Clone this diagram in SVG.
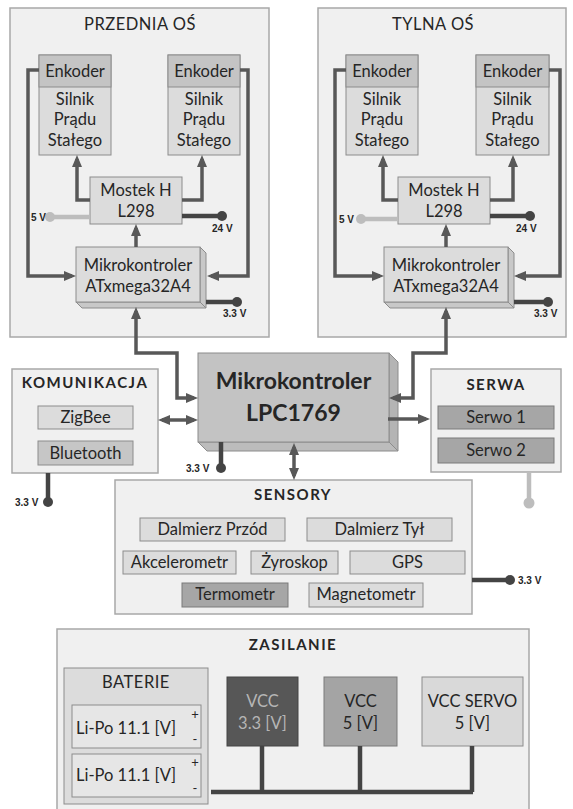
<svg xmlns="http://www.w3.org/2000/svg" width="573" height="809" viewBox="0 0 573 809">
<style>
.panel{fill:#f0f0f0;stroke:#a8a8a8;stroke-width:1.5}
.box{fill:#dcdcdc;stroke:#8c8c8c;stroke-width:1}
.hdr{fill:#c4c4c4;stroke:#8c8c8c;stroke-width:1}
.dark{fill:#a6a6a6;stroke:#7a7a7a;stroke-width:1}
.mid{fill:#c6c6c6;stroke:#8c8c8c;stroke-width:1}
.side{fill:#c8c8c8;stroke:#8c8c8c;stroke-width:1}
.t{font-family:Lato,"Open Sans",sans-serif;font-size:16.5px;fill:#262626;text-anchor:middle}
.ti{font-family:Lato,"Open Sans",sans-serif;font-size:16.5px;fill:#262626;text-anchor:middle;letter-spacing:0.5px}
.tb{font-family:Lato,"Open Sans",sans-serif;font-size:15px;font-weight:bold;fill:#262626;text-anchor:middle;letter-spacing:1.5px}
.v{font-family:"Liberation Sans",Arial,sans-serif;font-size:10px;font-weight:bold;fill:#262626}
.c{stroke:#585858;stroke-width:3.5;fill:none;marker-end:url(#ah)}
.cb{stroke:#585858;stroke-width:3.5;fill:none;marker-end:url(#ah);marker-start:url(#ah)}
.pw{stroke:#444;stroke-width:4.5;fill:none}
.pl{stroke:#bdbdbd;stroke-width:4.5;fill:none}
.dot{fill:#444}
.dotl{fill:#bdbdbd}
</style>
<defs>
<marker id="ah" markerUnits="userSpaceOnUse" markerWidth="12" markerHeight="10" refX="8" refY="5" orient="auto-start-reverse"><path d="M0,0 L12,5 L0,10 z" fill="#585858"/></marker>
</defs>
<rect width="573" height="809" fill="#fff"/>

<g id="przednia-os">
<rect class="panel" x="10" y="8" width="259" height="329"/>
<text class="ti" x="140" y="30">PRZEDNIA OŚ</text>
</g>
<g id="tylna-os">
<rect class="panel" x="318" y="8" width="248" height="329"/>
<text class="ti" x="433" y="30">TYLNA OŚ</text>
</g>

<g id="silnik-l1">
<rect class="box" x="39" y="55" width="72" height="100"/>
<rect class="hdr" x="39" y="55" width="72" height="32"/>
<text class="t" x="75" y="77">Enkoder</text>
<text class="t" x="75" y="105">Silnik</text>
<text class="t" x="75" y="125">Prądu</text>
<text class="t" x="75" y="146">Stałego</text>
</g>
<g id="silnik-l2">
<rect class="box" x="168" y="55" width="72" height="100"/>
<rect class="hdr" x="168" y="55" width="72" height="32"/>
<text class="t" x="204" y="77">Enkoder</text>
<text class="t" x="204" y="105">Silnik</text>
<text class="t" x="204" y="125">Prądu</text>
<text class="t" x="204" y="146">Stałego</text>
</g>
<g id="mostek-l">
<rect class="box" x="90" y="177" width="92" height="47"/>
<text class="t" x="136" y="196">Mostek H</text>
<text class="t" x="136" y="217">L298</text>
</g>
<g id="atxmega-l">
<polygon class="side" points="200,247 206,253 206,308 200,302"/>
<polygon class="side" points="76,302 200,302 206,308 82,308"/>
<rect class="box" x="76" y="247" width="124" height="55"/>
<text class="t" x="138" y="271">Mikrokontroler</text>
<text class="t" x="138" y="292">ATxmega32A4</text>
</g>

<g id="silnik-r1">
<rect class="box" x="346" y="55" width="72" height="100"/>
<rect class="hdr" x="346" y="55" width="72" height="32"/>
<text class="t" x="382" y="77">Enkoder</text>
<text class="t" x="382" y="105">Silnik</text>
<text class="t" x="382" y="125">Prądu</text>
<text class="t" x="382" y="146">Stałego</text>
</g>
<g id="silnik-r2">
<rect class="box" x="476" y="55" width="73" height="100"/>
<rect class="hdr" x="476" y="55" width="73" height="32"/>
<text class="t" x="512.5" y="77">Enkoder</text>
<text class="t" x="512.5" y="105">Silnik</text>
<text class="t" x="512.5" y="125">Prądu</text>
<text class="t" x="512.5" y="146">Stałego</text>
</g>
<g id="mostek-r">
<rect class="box" x="398" y="177" width="92" height="47"/>
<text class="t" x="444" y="196">Mostek H</text>
<text class="t" x="444" y="217">L298</text>
</g>
<g id="atxmega-r">
<polygon class="side" points="508,247 514,253 514,308 508,302"/>
<polygon class="side" points="384,302 508,302 514,308 390,308"/>
<rect class="box" x="384" y="247" width="124" height="55"/>
<text class="t" x="446" y="271">Mikrokontroler</text>
<text class="t" x="446" y="292">ATxmega32A4</text>
</g>

<g id="lpc1769">
<polygon class="side" points="389,353 398,362 398,451 389,442" style="fill:#b4b4b4"/>
<polygon class="side" points="198,442 389,442 398,451 207,451" style="fill:#bcbcbc"/>
<rect x="198" y="353" width="191" height="89" fill="#c3c3c3" stroke="#8c8c8c"/>
<text class="t" x="293.5" y="389" style="font-size:23px;font-weight:bold">Mikrokontroler</text>
<text class="t" x="293.5" y="421" style="font-size:23px;font-weight:bold">LPC1769</text>
</g>

<g id="komunikacja">
<rect class="panel" x="12" y="369" width="146" height="104"/>
<text class="tb" x="85" y="388">KOMUNIKACJA</text>
<rect class="box" x="38" y="406" width="95" height="23"/>
<text class="t" x="85.5" y="423">ZigBee</text>
<rect class="mid" x="38" y="441" width="95" height="24"/>
<text class="t" x="85.5" y="459">Bluetooth</text>
</g>

<g id="serwa">
<rect class="panel" x="431" y="369" width="130" height="103"/>
<text class="tb" x="496" y="390">SERWA</text>
<rect class="dark" x="438" y="406" width="116" height="23"/>
<text class="t" x="496" y="423">Serwo 1</text>
<rect class="dark" x="438" y="438" width="116" height="25"/>
<text class="t" x="496" y="456">Serwo 2</text>
</g>

<g id="sensory">
<rect class="panel" x="115" y="480" width="357" height="134"/>
<text class="tb" x="293" y="500">SENSORY</text>
<rect class="box" x="140" y="518" width="145" height="23"/>
<text class="t" x="212.5" y="535">Dalmierz Przód</text>
<rect class="box" x="307" y="518" width="145" height="23"/>
<text class="t" x="379.5" y="535">Dalmierz Tył</text>
<rect class="box" x="123" y="551" width="113" height="23"/>
<text class="t" x="179.5" y="568">Akcelerometr</text>
<rect class="box" x="251" y="551" width="87" height="23"/>
<text class="t" x="294.5" y="568">Żyroskop</text>
<rect class="box" x="350" y="551" width="115" height="23"/>
<text class="t" x="407.5" y="568">GPS</text>
<rect class="dark" x="182" y="583" width="106" height="24"/>
<text class="t" x="235" y="600">Termometr</text>
<rect class="box" x="309" y="583" width="114" height="24"/>
<text class="t" x="366" y="600">Magnetometr</text>
</g>

<g id="zasilanie">
<rect class="panel" x="57" y="629" width="472" height="190"/>
<text class="tb" x="293" y="650">ZASILANIE</text>
</g>
<g id="baterie">
<rect class="box" x="64" y="668" width="144" height="136"/>
<text class="ti" x="136" y="688">BATERIE</text>
<rect class="box" x="72" y="705" width="129" height="43" style="fill:#e6e6e6"/>
<text class="t" x="76" y="734" style="text-anchor:start">Li-Po 11.1 [V]</text>
<text class="t" x="195" y="719" style="font-size:13px">+</text>
<text class="t" x="195" y="744" style="font-size:13px">-</text>
<rect class="box" x="72" y="754" width="129" height="43" style="fill:#e6e6e6"/>
<text class="t" x="76" y="781" style="text-anchor:start">Li-Po 11.1 [V]</text>
<text class="t" x="195" y="767" style="font-size:13px">+</text>
<text class="t" x="195" y="793" style="font-size:13px">-</text>
</g>
<g id="vcc33">
<rect x="227" y="677" width="71" height="69" fill="#575757" stroke="#444"/>
<text class="t" x="262.5" y="707" style="fill:#b5b5b5">VCC</text>
<text class="t" x="262.5" y="729" style="fill:#b5b5b5">3.3 [V]</text>
</g>
<g id="vcc5">
<rect x="324" y="677" width="73" height="69" fill="#a4a4a4" stroke="#7a7a7a"/>
<text class="t" x="360.5" y="707">VCC</text>
<text class="t" x="360.5" y="729">5 [V]</text>
</g>
<g id="vccservo">
<rect x="422" y="677" width="101" height="69" fill="#d9d9d9" stroke="#8c8c8c"/>
<text class="t" x="472.5" y="707">VCC SERVO</text>
<text class="t" x="472.5" y="729">5 [V]</text>
</g>

<g id="connectors">
<path class="c" d="M90,200 H77 V159"/>
<path class="c" d="M182,200 H202 V159"/>
<path class="c" d="M136,247 V228"/>
<path class="c" d="M39,70 H28 V276 H72"/>
<path class="c" d="M240,70 H248 V276 H211"/>
<path class="cb" d="M136,311 V353 H177 V398 H194"/>

<path class="c" d="M398,200 H383 V159"/>
<path class="c" d="M490,200 H513 V159"/>
<path class="c" d="M446,247 V228"/>
<path class="c" d="M346,70 H335 V276 H380"/>
<path class="c" d="M549,70 H560 V276 H518"/>
<path class="cb" d="M446,311 V353 H413 V398 H393"/>

<path class="cb" d="M162,420 H194"/>
<path class="c" d="M388,419 H426"/>
<path class="cb" d="M294,447 V476"/>

<path class="pl" d="M50,217 H90"/><circle class="dotl" cx="50" cy="217" r="5"/>
<path class="pw" d="M182,216 H222"/><circle class="dot" cx="222" cy="216" r="5"/>
<path class="pw" d="M206,302 H237"/><circle class="dot" cx="237" cy="302" r="5"/>
<path class="pl" d="M361,219 H398"/><circle class="dotl" cx="361" cy="219" r="5"/>
<path class="pw" d="M490,216 H530"/><circle class="dot" cx="530" cy="216" r="5"/>
<path class="pw" d="M514,302 H548"/><circle class="dot" cx="548" cy="302" r="5"/>
<path class="pw" d="M221,442 V468"/><circle class="dot" cx="221" cy="468" r="5"/>
<path class="pw" d="M48,473 V502"/><circle class="dot" cx="48" cy="502" r="5"/>
<path class="pl" d="M529,472 V503"/><circle class="dotl" cx="529" cy="503" r="5.5"/>
<path class="pw" d="M472,580 H510"/><circle class="dot" cx="510" cy="580" r="5"/>
<path class="pw" d="M211,792 H473 M262,746 V792 M360,746 V792 M472,746 V792"/>
</g>

<g id="labels">
<text class="v" x="31" y="221">5 V</text>
<text class="v" x="212" y="232">24 V</text>
<text class="v" x="223" y="317">3.3 V</text>
<text class="v" x="339" y="223">5 V</text>
<text class="v" x="516" y="232">24 V</text>
<text class="v" x="534" y="317">3.3 V</text>
<text class="v" x="186" y="472">3.3 V</text>
<text class="v" x="15" y="506">3.3 V</text>
<text class="v" x="518" y="584">3.3 V</text>
</g>
</svg>
